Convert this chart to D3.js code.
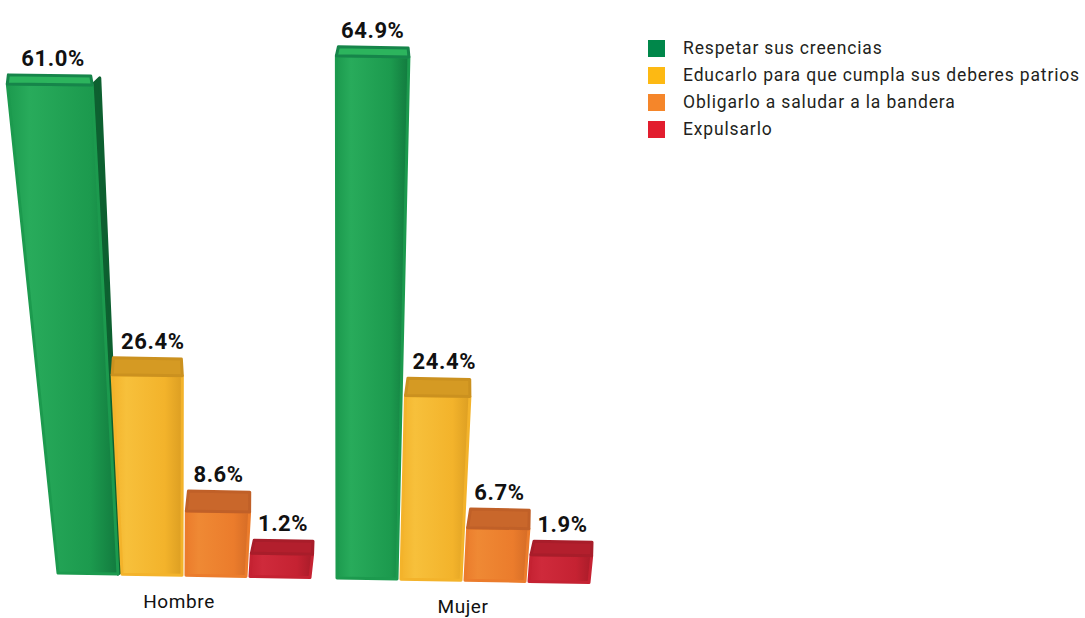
<!DOCTYPE html>
<html>
<head>
<meta charset="utf-8">
<script src="https://cdn.jsdelivr.net/npm/d3@7/dist/d3.min.js"></script>
<style>
  html, body { margin: 0; padding: 0; background: #fff; }
  svg { display: block; }
  text { font-family: Roboto, "Noto Sans", sans-serif; }
</style>
</head>
<body>
<svg id="chart" width="1085" height="618"></svg>
<script>
// ---- data ----
const categories = ["Hombre", "Mujer"];
const series = [
  "Respetar sus creencias",
  "Educarlo para que cumpla sus deberes patrios",
  "Obligarlo a saludar a la bandera",
  "Expulsarlo"
];
const hombreValues = [61.0, 26.4, 8.6, 1.2];
const mujerValues = [64.9, 24.4, 6.7, 1.9];
const valuesByCategory = { Hombre: hombreValues, Mujer: mujerValues };

// ---- colours ----
const legendColors = ["#00874a", "#fdb913", "#f5862a", "#e21d2e"];
const barPalette = [
  { base: "#1c9a4e", light: "#28ab5b", dark: "#127a3e", top: "#2cb45d", edge: "#16854a", side: "#0d6030" },
  { base: "#f3b32b", light: "#f7c03b", dark: "#dc9e22", top: "#d59a23", edge: "#cb911f", side: "#c3881c" },
  { base: "#eb7c2c", light: "#ef8934", dark: "#d56c26", top: "#c9672b", edge: "#c06028", side: "#b85a24" },
  { base: "#c52232", light: "#cf2a3b", dark: "#a91c29", top: "#b31f2d", edge: "#a81d2a", side: "#9c1a26" }
];

const svg = d3.select("#chart");
const fmt = v => d3.format(".1f")(v) + "%";

// ---- scales ----
const xGroup = d3.scaleBand().domain(categories).range([58, 589]).paddingInner(0.0968);
const xBar = d3.scaleBand().domain(d3.range(series.length)).range([0, xGroup.bandwidth()]).paddingInner(0.0625);
// rendered height of each block (base to back edge of its top face)
const hScale = d3.scalePow().exponent(1.1).domain([0, 65]).range([30, 532]);
// apparent depth of the top face as the block rises towards the camera
const depthScale = d3.scaleLinear().domain([37, 80, 210, 500]).range([13, 20, 17, 9]).clamp(true);

// perspective of each group: vanishing x and lean factor, floor line
const view = {
  Hombre: { xv: 180, k: 0.00085, floor: 573, side: 0.00026, labelY: 608 },
  Mujer:  { xv: 340, k: 0.0004,  floor: 578, side: 0,       labelY: 613 }
};

// gradients for front faces
const defs = svg.append("defs");
barPalette.forEach((c, i) => {
  const g = defs.append("linearGradient").attr("id", "front" + i)
    .attr("x1", "0%").attr("x2", "100%").attr("y1", "0%").attr("y2", "0%");
  g.append("stop").attr("offset", "0%").attr("stop-color", c.base);
  g.append("stop").attr("offset", "20%").attr("stop-color", c.light);
  g.append("stop").attr("offset", "75%").attr("stop-color", c.base);
  g.append("stop").attr("offset", "100%").attr("stop-color", c.dark);
});

const line = d3.line();

categories.forEach(cat => {
  const v = view[cat];
  const g0 = xGroup(cat);
  const gBars = svg.append("g").attr("class", "group");
  valuesByCategory[cat].forEach((val, i) => {
    const c = barPalette[i];
    const bx0 = g0 + xBar(i);
    const bx1 = bx0 + xBar.bandwidth();
    const baseY0 = v.floor + 0.018 * (bx0 - g0);
    const baseY1 = v.floor + 0.018 * (bx1 - g0);
    const h = hScale(val);
    const d = depthScale(h);
    const lean = x => v.k * (x - v.xv) * h;
    const tx0 = bx0 + lean(bx0);
    const tx1 = bx1 + lean(bx1);
    const yTop0 = baseY0 - h, yTop1 = baseY1 - h;
    const yF0 = yTop0 + d, yF1 = yTop1 + d;
    // point along an edge at front-top height
    const fx0 = bx0 + lean(bx0) * (h - d) / h;
    const fx1 = bx1 + lean(bx1) * (h - d) / h;

    // right side face, visible when the block sits left of the viewpoint
    const sw = v.side > 0 ? Math.max(0, v.side * (v.xv - bx1) * h) : 0;
    if (sw > 0.5) {
      gBars.append("path")
        .attr("d", line([[bx1, baseY1], [fx1, yF1], [tx1 + sw, yTop1 + 2], [bx1 + sw * 0.35, baseY1 - 2]]) + "Z")
        .attr("fill", c.side).attr("stroke", c.side).attr("stroke-width", 3).attr("stroke-linejoin", "round");
    }

    // front face
    gBars.append("path")
      .attr("d", line([[bx0, baseY0], [bx1, baseY1], [fx1, yF1], [fx0, yF0]]) + "Z")
      .attr("fill", `url(#front${i})`)
      .attr("stroke", c.base).attr("stroke-width", 3).attr("stroke-linejoin", "round");

    // top face
    gBars.append("path")
      .attr("d", line([[fx0, yF0], [fx1, yF1], [tx1 - 1, yTop1], [tx0 + 2, yTop0]]) + "Z")
      .attr("fill", c.top)
      .attr("stroke", c.edge).attr("stroke-width", 3).attr("stroke-linejoin", "round");

    // value label
    gBars.append("text")
      .attr("x", (tx0 + tx1 + sw) / 2 + (i === 1 ? 6 : 0))
      .attr("y", Math.min(yTop0, yTop1) - 9)
      .attr("text-anchor", "middle")
      .attr("font-size", 22).attr("font-weight", 700)
      .attr("letter-spacing", 0.6)
      .attr("fill", "#111")
      .text(fmt(val));
  });

  // category label
  svg.append("text")
    .attr("x", xGroup(cat) + xGroup.bandwidth() / 2 - (cat === "Hombre" ? 5 : 0))
    .attr("y", v.labelY)
    .attr("text-anchor", "middle")
    .attr("font-size", 19)
    .attr("letter-spacing", 0.6)
    .attr("fill", "#111")
    .text(cat);
});

// ---- legend ----
const legend = svg.append("g").attr("transform", "translate(648,40)");
const rows = legend.selectAll("g").data(series).join("g")
  .attr("transform", (d, i) => `translate(0,${i * 27})`);
rows.append("rect").attr("width", 17).attr("height", 17)
  .attr("fill", (d, i) => legendColors[i]);
rows.append("text").attr("x", 35).attr("y", 14)
  .attr("font-size", 17.5).attr("letter-spacing", 0.85).attr("fill", "#231f20")
  .text(d => d);
</script>
</body>
</html>
